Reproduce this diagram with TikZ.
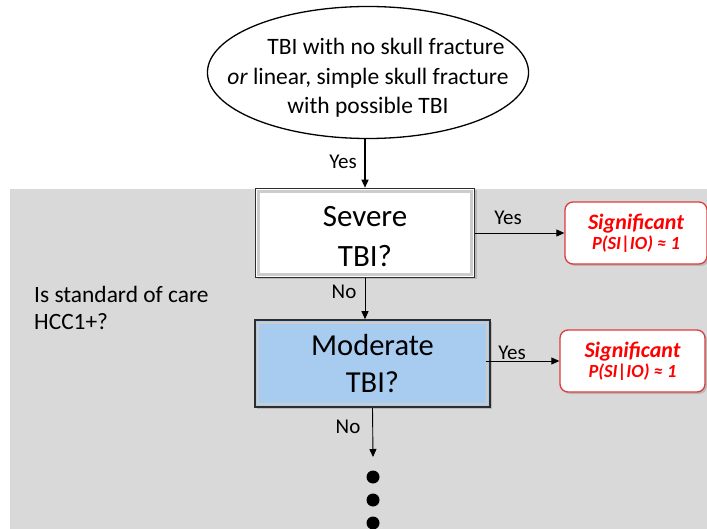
\documentclass[tikz,border=0pt]{standalone}
\usepackage{fontspec}
\setmainfont{Carlito}
\usetikzlibrary{shapes.geometric,arrows.meta,shadows}

\definecolor{panelgray}{RGB}{217,217,217}
\definecolor{boxblue}{RGB}{168,204,240}
\definecolor{edgedark}{RGB}{45,45,45}
\definecolor{sigred}{RGB}{255,0,0}
\definecolor{sigedge}{RGB}{220,60,60}

\tikzset{
  startnode/.style={ellipse, draw=black, line width=1.3pt, fill=white,
    minimum width=320pt, minimum height=132pt, inner xsep=-27pt, inner ysep=0pt,
    align=center, font=\fontsize{23.5}{29.5}\selectfont},
  decision/.style={rectangle, draw=edgedark, line width=1.6pt,
    inner sep=0pt, align=center,
    drop shadow={shadow xshift=2pt, shadow yshift=-2pt, opacity=.35},
    path picture={
      \draw[white!60!gray, line width=2.5pt]
        ([shift={(3pt,3pt)}]path picture bounding box.south west) rectangle
        ([shift={(-3pt,-3pt)}]path picture bounding box.north east);}},
  outcome/.style={rectangle, rounded corners=8pt, draw=sigedge, line width=1.3pt,
    fill=white, minimum width=142pt, minimum height=62pt, inner sep=0pt,
    align=center, text=sigred, font=\bfseries\itshape,
    drop shadow={shadow xshift=2pt, shadow yshift=-2pt, opacity=.35}},
  flow/.style={draw=black, line width=0.9pt, -{Triangle[length=8pt,width=7pt]}},
  mainflow/.style={flow, line width=1.3pt},
  edgelabel/.style={font=\fontsize{21}{24}\selectfont, inner sep=0pt},
  dot/.style={circle, fill=black, minimum size=13pt, inner sep=0pt},
}

\newcommand{\sigtext}{{\fontsize{22}{24}\selectfont Significant}\\[2pt]
  {\fontsize{18.5}{20}\selectfont P(SI{\upshape\textbar}IO) ≈ 1}}

\begin{document}
\begin{tikzpicture}[x=1pt,y=-1pt]
  \useasboundingbox (0,0) rectangle (707,529);

  % shaded panel behind the decision steps
  \fill[panelgray] (10,189) rectangle (707,529);

  % entry condition
  \node[startnode] (start) at (368,72.5)
    {\rule{0pt}{27pt}\hspace*{36pt}TBI with no skull fracture\\
     \textit{or} linear, simple skull fracture\\
     with possible TBI};

  % decision boxes
  \node[decision, fill=white, minimum width=219pt, minimum height=89pt,
        font=\fontsize{31}{40}\selectfont]
    (severe) at (365,233) {\rule{0pt}{28pt}Severe\\TBI?};
  \node[decision, fill=boxblue, minimum width=235pt, minimum height=87pt,
        font=\fontsize{30.5}{37}\selectfont]
    (moderate) at (372.5,363.5) {Moderate\\TBI?};

  % outcomes
  \node[outcome] (sig1) at (636,233) {\sigtext};
  \node[outcome, minimum width=145pt] (sig2) at (632.5,361) {\sigtext};

  % side question
  \node[anchor=north west, align=left, inner sep=0pt,
        font=\fontsize{23.4}{27}\selectfont] (question) at (34,286)
    {Is standard of care\\HCC1+?};

  % continuation dots
  \coordinate (cont) at (373,457);
  \node[dot] (d1) at (373,477) {};
  \node[dot] (d2) at (373,500) {};
  \node[dot] (d3) at (373,523) {};

  % connectors
  \draw[mainflow] (severe.north |- start.south) -- (severe.north);
  \draw[flow] (severe.east) -- (sig1.west);
  \draw[flow] (severe.south) -- (severe.south |- moderate.north);
  \draw[flow] ([xshift=-5pt]moderate.east |- sig2.west) -- (sig2.west);
  \draw[flow] (moderate.south) -- (cont);

  % connector labels
  \node[edgelabel] (yes0) at (343,162) {Yes};
  \node[edgelabel] (yes1) at (508,218) {Yes};
  \node[edgelabel] (no1) at (344,292) {No};
  \node[edgelabel] (yes2) at (512,353) {Yes};
  \node[edgelabel] (no2) at (348,427) {No};
\end{tikzpicture}
\end{document}
